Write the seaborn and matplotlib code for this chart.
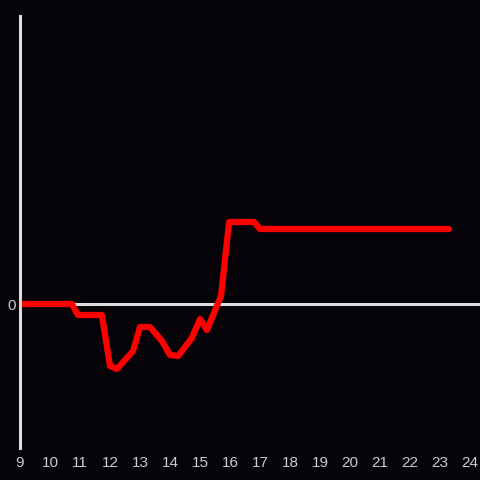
import pandas as pd
import seaborn as sns
import matplotlib.pyplot as plt

# hours of the day and the running value (relative units)
hours = [9.0, 10.73, 10.93, 11.73, 12.0, 12.23, 12.77, 13.0, 13.33, 13.73, 14.0,
         14.27, 14.73, 15.0, 15.23, 15.7, 15.97, 16.8, 17.0, 23.3]
values = [0.0, 0.0, -1.1, -1.1, -6.2, -6.5, -4.7, -2.3, -2.3, -3.7, -5.1,
          -5.2, -3.4, -1.5, -2.6, 0.8, 8.2, 8.2, 7.5, 7.5]
xticks = list(range(9, 25))

df = pd.DataFrame({'hour': hours, 'value': values})

sns.set_style('dark')
plt.rcParams['font.family'] = ['Liberation Sans', 'DejaVu Sans']

fig = plt.figure(figsize=(4.8, 4.8), dpi=100, facecolor='#050308')
ax = fig.add_axes([20/480, 32/480, 460/480, 432/480])
ax.set_facecolor('#050308')

sns.lineplot(x='hour', y='value', data=df, color='#ff0000', linewidth=4.5, ax=ax, sort=False)
ax.axhline(0, color='#dddddd', linewidth=2.2, zorder=1)

ax.set_xlim(9, 24.333)
ax.set_ylim(-14.4, 28.8)
ax.set_xticks(xticks)
ax.set_xticklabels([str(t) for t in xticks])
ax.set_yticks([0])
ax.set_yticklabels(['0'])
ax.tick_params(axis='both', length=0, colors='#cccccc', labelsize=11)
ax.tick_params(axis='x', pad=6)
ax.tick_params(axis='y', pad=3)
ax.set_xlabel('')
ax.set_ylabel('')
ax.grid(False)

for side in ['top', 'right', 'bottom']:
    ax.spines[side].set_visible(False)
ax.spines['left'].set_color('#dddddd')
ax.spines['left'].set_linewidth(2.2)

fig.savefig('out.png', dpi=100, facecolor='#050308')
